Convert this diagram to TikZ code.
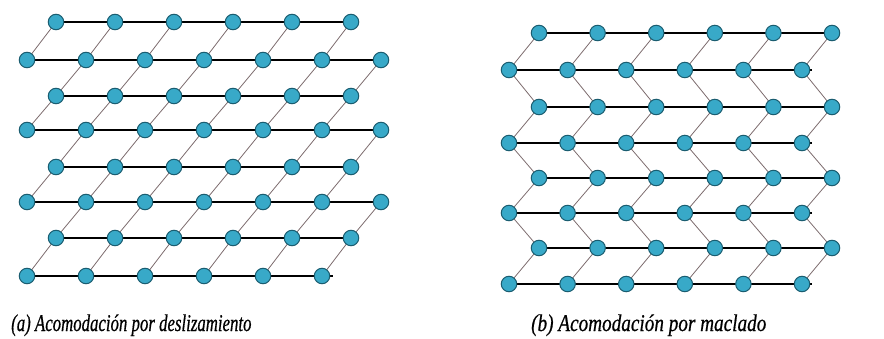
\documentclass[tikz,border=0pt]{standalone}
\usepackage{fontspec}
\newfontfamily\capfont[FakeStretch=0.7,FakeBold=0.6]{Liberation Serif}
\newfontfamily\capfontb[FakeStretch=0.8,FakeBold=0.6]{Liberation Serif}
\definecolor{atomfill}{HTML}{38A9C8}
\definecolor{atomline}{HTML}{1A5D70}
\definecolor{bondgray}{HTML}{7C6B6D}
\pgfdeclarelayer{bg}
\pgfsetlayers{bg,main}
\tikzset{
  atom/.style={circle, draw=atomline, fill=atomfill, line width=1pt, minimum size=15.5pt, inner sep=0pt},
  rowline/.style={draw=black, line width=1.3pt},
  diagbond/.style={draw=bondgray, line width=0.8pt},
  caption/.style={anchor=base west, inner sep=0pt, font=\capfont\itshape\fontsize{24}{28}\selectfont},
  captionb/.style={anchor=base west, inner sep=0pt, font=\capfontb\itshape\fontsize{24}{28}\selectfont}
}
\begin{document}
\begin{tikzpicture}[x=1pt,y=-1pt]
\useasboundingbox (0,0) rectangle (884,339);
% ---------- left panel: slip ----------
\foreach \r/\yy/\xs/\n in {1/22/56/5, 2/60/27/6, 3/96/56/5, 4/130/27/6, 5/167/56/5, 6/202/27/6, 7/238/56/5, 8/276/27/5}{
  \foreach \i in {0,...,\n}{
    \node[atom] (L-\r-\i) at ({\xs+59*\i},\yy) {};
  }
}
\coordinate (Lend8) at (333,276);
\begin{pgfonlayer}{bg}
  \foreach \r/\n in {1/5,2/6,3/5,4/6,5/5,6/6,7/5}{
    \draw[rowline] (L-\r-0.center) -- (L-\r-\n.center);
  }
  \draw[rowline] (L-8-0.center) -- (Lend8);
  \foreach \r in {3,5,7}{
    \pgfmathtruncatemacro{\up}{\r-1}
    \foreach \i in {0,...,5}{
      \pgfmathtruncatemacro{\j}{\i+1}
      \draw[diagbond] (L-\r-\i.center) -- (L-\up-\j.center);
    }
  }
  \foreach \r in {2,4,6,8}{
    \pgfmathtruncatemacro{\up}{\r-1}
    \foreach \i in {0,...,5}{
      \draw[diagbond] (L-\r-\i.center) -- (L-\up-\i.center);
    }
  }
\end{pgfonlayer}
% ---------- right panel: twinning ----------
\foreach \r/\yy/\xs in {1/33/539, 2/70/509, 3/107/539, 4/143/509, 5/178/539, 6/213/509, 7/248/539, 8/284/509}{
  \foreach \i in {0,...,5}{
    \node[atom] (R-\r-\i) at ({\xs+58.6*\i},\yy) {};
  }
}
\coordinate (Rend3) at (838,107);
\coordinate (Rend7) at (838,248);
\coordinate (Rend2) at (812,70);
\coordinate (Rend4) at (812,143);
\coordinate (Rend6) at (812,213);
\coordinate (Rend8) at (812,284);
\begin{pgfonlayer}{bg}
  \draw[rowline] (R-1-0.center) -- (R-1-5.center);
  \draw[rowline] (R-5-0.center) -- (R-5-5.center);
  \foreach \r in {2,3,4,6,7,8}{
    \draw[rowline] (R-\r-0.center) -- (Rend\r);
  }
  \foreach \r in {1,...,7}{
    \pgfmathtruncatemacro{\dn}{\r+1}
    \foreach \i in {0,...,5}{
      \draw[diagbond] (R-\r-\i.center) -- (R-\dn-\i.center);
    }
  }
\end{pgfonlayer}
% ---------- captions ----------
\node[caption] (capa) at (11,331) {(a) Acomodación por deslizamiento};
\node[captionb] (capb) at (531,331) {(b) Acomodación por maclado};
\end{tikzpicture}
\end{document}
